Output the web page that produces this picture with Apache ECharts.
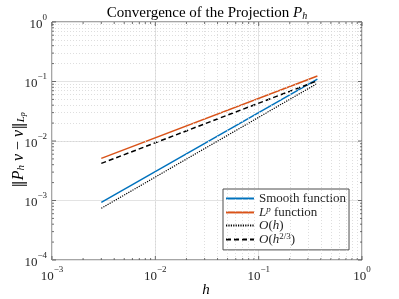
<!DOCTYPE html>
<html><head><meta charset="utf-8">
<script src="https://cdn.jsdelivr.net/npm/echarts@6/dist/echarts.min.js"></script>
<style>html,body{margin:0;padding:0;background:#fff}#c{width:399px;height:299px}</style>
</head><body><div id="c"></div>
<script>
// ---- data ----
const hValues = [0.003, 0.37];
const smoothErr = [9.3e-4, 0.110];
const lpErr = [5.1e-3, 0.124];
const orderH = [7.4e-4, 0.093];
const orderH23 = [4.2e-3, 0.103];
const seriesNames = ['Smooth function', 'Lp function', 'O(h)', 'O(h2/3)'];
const xRange = [1e-3, 1];
const yRange = [1e-4, 1];

const F = 'Liberation Serif';
const TXT = '#262626';

function minorVals(lo, hi) {
  const a = [];
  for (let e = Math.round(Math.log10(lo)); e < Math.round(Math.log10(hi)); e++)
    for (let k = 2; k <= 9; k++) a.push(k * Math.pow(10, e));
  return a;
}
function majorVals(lo, hi) {
  const a = [];
  for (let e = Math.round(Math.log10(lo)); e <= Math.round(Math.log10(hi)); e++) a.push(Math.pow(10, e));
  return a;
}
const xMinor = minorVals(xRange[0], xRange[1]);
const yMinor = minorVals(yRange[0], yRange[1]);
const xMajor = majorVals(xRange[0], xRange[1]);
const yMajor = majorVals(yRange[0], yRange[1]);

function powLabel(v) {
  const e = Math.round(Math.log10(v));
  return '{b|10}{s|' + (e < 0 ? '\u2212' + (-e) : e) + '}';
}
const powRich = {
  b: { fontFamily: F, fontSize: 13, color: TXT, lineHeight: 18, verticalAlign: 'bottom' },
  s: { fontFamily: F, fontSize: 9, color: TXT, lineHeight: 18, verticalAlign: 'top' }
};

const LH = 14.9;
const legendRich = {
  n: { fontFamily: F, fontSize: 13, color: TXT, lineHeight: LH },
  i: { fontFamily: F, fontSize: 13, fontStyle: 'italic', color: TXT, lineHeight: LH },
  sup: { fontFamily: F, fontSize: 9, fontStyle: 'italic', color: TXT, lineHeight: LH, verticalAlign: 'top' },
  supn: { fontFamily: F, fontSize: 9, color: TXT, lineHeight: LH, verticalAlign: 'top' }
};
const legendFmt = {
  'Smooth function': '{n|Smooth function}',
  'Lp function': '{i|L}{sup|p}{n| function}',
  'O(h)': '{i|O}{n|(}{i|h}{n|)}',
  'O(h2/3)': '{i|O}{n|(}{i|h}{supn|2/3}{n|)}'
};

function tickSeries(vals, isX, len) {
  return {
    type: 'custom', silent: true, clip: false, z: 5,
    data: vals.map(v => isX ? [v, 0.01] : [0.01, v]),
    encode: { x: 0, y: 1 },
    renderItem: function (params, api) {
      const v = api.value(isX ? 0 : 1);
      let a, b;
      if (isX) { a = api.coord([v, yRange[0]]); b = api.coord([v, yRange[1]]); }
      else { a = api.coord([xRange[0], v]); b = api.coord([xRange[1], v]); }
      const st = { stroke: '#4d4d4d', lineWidth: 0.8 };
      if (isX) {
        return { type: 'group', children: [
          { type: 'line', shape: { x1: a[0], y1: a[1], x2: a[0], y2: a[1] - len }, style: st },
          { type: 'line', shape: { x1: b[0], y1: b[1], x2: b[0], y2: b[1] + len }, style: st }
        ]};
      }
      return { type: 'group', children: [
        { type: 'line', shape: { x1: a[0], y1: a[1], x2: a[0] + len, y2: a[1] }, style: st },
        { type: 'line', shape: { x1: b[0], y1: b[1], x2: b[0] - len, y2: b[1] }, style: st }
      ]};
    }
  };
}

function lineSeries(name, ys, color, type, width) {
  return {
    name: name, type: 'line', symbol: 'none', showSymbol: false, z: 3,
    data: hValues.map((h, i) => [h, ys[i]]),
    lineStyle: { color: color, width: width, type: type },
    itemStyle: { color: color }
  };
}

const chart = echarts.init(document.getElementById('c'));
chart.setOption({
  animation: false,
  backgroundColor: '#fff',
  grid: { left: 52, top: 22, width: 310, height: 238, show: true, borderColor: '#4d4d4d', borderWidth: 1, backgroundColor: 'transparent' },
  xAxis: {
    type: 'log', logBase: 10, min: xRange[0], max: xRange[1],
    axisLine: { show: false }, axisTick: { show: false },
    splitLine: { show: true, lineStyle: { color: '#e3e3e3', width: 1 } },
    axisLabel: { formatter: powLabel, rich: powRich, margin: 5 }
  },
  yAxis: {
    type: 'log', logBase: 10, min: yRange[0], max: yRange[1],
    axisLine: { show: false }, axisTick: { show: false },
    splitLine: { show: true, lineStyle: { color: '#e3e3e3', width: 1 } },
    axisLabel: { formatter: powLabel, rich: powRich, margin: 5 }
  },
  legend: {
    data: seriesNames, orient: 'vertical', left: 223, top: 189,
    itemWidth: 28, itemHeight: 10, itemGap: 0,
    padding: [3, 3, 4, 2],
    backgroundColor: '#fff', borderColor: '#4d4d4d', borderWidth: 1, borderRadius: 0,
    itemStyle: { opacity: 0 },
    formatter: n => legendFmt[n],
    textStyle: { rich: legendRich, fontFamily: F, fontSize: 13 }
  },
  graphic: [
    { type: 'text', x: 207, y: 12, style: {
      text: '{n|Convergence of the Projection }{i|P}{sub|h}',
      align: 'center', verticalAlign: 'middle',
      rich: {
        n: { fontFamily: F, fontSize: 15, fill: '#000', lineHeight: 18, verticalAlign: 'bottom' },
        i: { fontFamily: F, fontSize: 15, fontStyle: 'italic', fill: '#000', lineHeight: 18, verticalAlign: 'bottom' },
        sub: { fontFamily: F, fontSize: 10, fontStyle: 'italic', fill: '#000', lineHeight: 14, verticalAlign: 'bottom' }
      }
    } },
    { type: 'text', x: 206, y: 290, style: {
      text: 'h', font: 'italic 15px ' + F, fill: '#000', align: 'center', verticalAlign: 'middle'
    } },
    { type: 'text', x: 16, y: 150, rotation: Math.PI / 2, style: {
      text: '{d|\u2016}{i|P}{sub|h}{i| v}{n| \u2212 }{i|v}{d|\u2016}{sub|L}{subsup|p}',
      align: 'center', verticalAlign: 'middle',
      rich: {
        d: { fontFamily: 'DejaVu Serif', fontSize: 15, fill: '#000', lineHeight: 20, verticalAlign: 'bottom' },
        n: { fontFamily: F, fontSize: 16, fill: '#000', lineHeight: 20, verticalAlign: 'bottom' },
        i: { fontFamily: F, fontSize: 16, fontStyle: 'italic', fill: '#000', lineHeight: 20, verticalAlign: 'bottom' },
        sub: { fontFamily: F, fontSize: 11, fontStyle: 'italic', fill: '#000', lineHeight: 16, verticalAlign: 'bottom' },
        subsup: { fontFamily: F, fontSize: 8, fontStyle: 'italic', fill: '#000', lineHeight: 22, verticalAlign: 'bottom' }
      }
    } }
  ],
  series: [
    {
      type: 'line', data: [], silent: true, z: 1,
      markLine: {
        silent: true, symbol: ['none', 'none'], animation: false,
        label: { show: false },
        lineStyle: { color: '#d6d6d6', width: 0.8, type: [1, 2] },
        emphasis: { disabled: true },
        data: xMinor.map(v => ({ xAxis: v })).concat(yMinor.map(v => ({ yAxis: v })))
      }
    },
    tickSeries(xMinor, true, 2), tickSeries(yMinor, false, 2),
    tickSeries(xMajor, true, 4), tickSeries(yMajor, false, 4),
    lineSeries(seriesNames[0], smoothErr, '#0072BD', 'solid', 1.5),
    lineSeries(seriesNames[1], lpErr, '#D95319', 'solid', 1.5),
    lineSeries(seriesNames[2], orderH, '#000', [1.2, 1.2], 1.2),
    lineSeries(seriesNames[3], orderH23, '#000', [5, 3], 1.5)
  ]
});
</script></body></html>
